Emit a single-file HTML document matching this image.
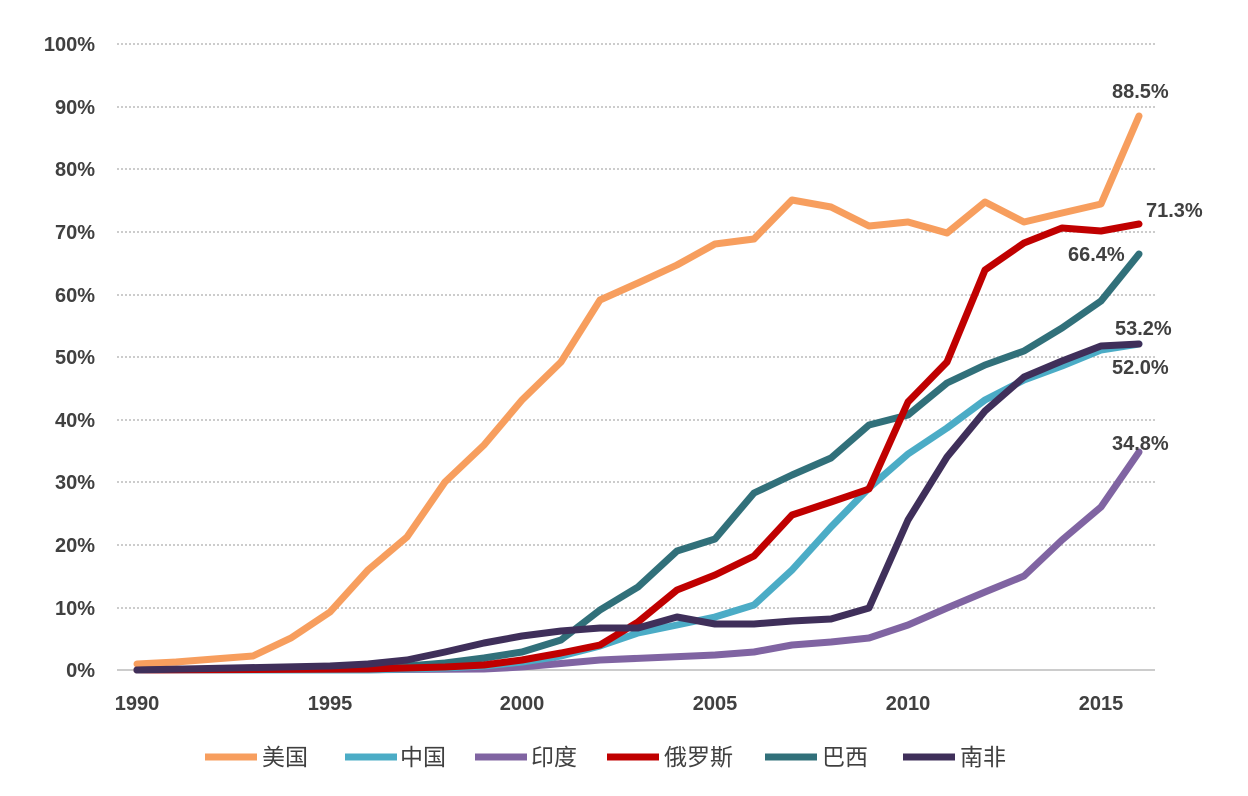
<!DOCTYPE html>
<html><head><meta charset="utf-8"><style>
html,body{margin:0;padding:0;background:#fff;}
svg text{font-family:"Liberation Sans","Noto Sans CJK SC",sans-serif;fill:#404040;}
</style></head><body>
<svg width="1248" height="791" xmlns="http://www.w3.org/2000/svg">
<g stroke="#bbb" stroke-width="1.5" stroke-dasharray="2,2">
<line x1="117" x2="1155" y1="44" y2="44"/><line x1="117" x2="1155" y1="107" y2="107"/>
<line x1="117" x2="1155" y1="169" y2="169"/><line x1="117" x2="1155" y1="232" y2="232"/>
<line x1="117" x2="1155" y1="295" y2="295"/><line x1="117" x2="1155" y1="357" y2="357"/>
<line x1="117" x2="1155" y1="420" y2="420"/><line x1="117" x2="1155" y1="482" y2="482"/>
<line x1="117" x2="1155" y1="545" y2="545"/><line x1="117" x2="1155" y1="608" y2="608"/>
</g>
<line x1="117" x2="1155" y1="670" y2="670" stroke="#bbb" stroke-width="1.5"/>
<g font-size="20" font-weight="bold" text-anchor="end">
<text x="95" y="51">100%</text><text x="95" y="114">90%</text><text x="95" y="176">80%</text>
<text x="95" y="239">70%</text><text x="95" y="302">60%</text><text x="95" y="364">50%</text>
<text x="95" y="427">40%</text><text x="95" y="489">30%</text><text x="95" y="552">20%</text>
<text x="95" y="615">10%</text><text x="95" y="677">0%</text>
</g>
<g font-size="20" font-weight="bold" text-anchor="middle">
<text x="137" y="710">1990</text><text x="330" y="710">1995</text><text x="522" y="710">2000</text>
<text x="715" y="710">2005</text><text x="908" y="710">2010</text><text x="1101" y="710">2015</text>
</g>
<g fill="none" stroke-width="7" stroke-linejoin="round" stroke-linecap="round">
<polyline stroke="#F79E5E" points="137,664 176,662 214,659 253,656 291,638 330,612 368,570 407,537 445,482 484,445 522,400 561,362 600,300 638,283 677,265 715,244 754,239 792,200 831,207 869,226 908,222 947,233 985,202 1024,222 1062,213 1101,204 1139,116"/>
<polyline stroke="#8064A2" points="137,670 330,670 484,669 522,667 600,660 715,655 754,652 792,645 831,642 869,638 908,625 947,608 985,592 1024,576 1062,540 1101,507 1139,452"/>
<polyline stroke="#4BACC6" points="137,670 368,670 407,669 445,668 484,666 522,662 561,656 600,646 638,633 677,625 715,617 754,605 792,570 831,527 869,488 908,454 947,428 985,400 1024,380 1062,366 1101,350 1139,344"/>
<polyline stroke="#31707A" points="137,670 330,668 407,666 445,663 484,658 522,652 561,640 600,610 638,587 677,551 715,539 754,493 792,475 831,458 869,425 908,415 947,383 985,365 1024,351 1062,328 1101,301 1139,254"/>
<polyline stroke="#C00000" points="137,670 368,669 445,667 484,665 522,660 561,653 600,645 638,622 677,590 715,575 754,556 792,515 831,502 869,489 908,402 947,362 985,270 1024,243 1062,228 1101,231 1139,224"/>
<polyline stroke="#3F2F5A" points="137,670 330,666 368,664 407,660 445,652 484,643 522,636 561,631 600,628 638,628 677,617 715,624 754,624 792,621 831,619 869,608 908,520 947,457 985,411 1024,377 1062,361 1101,346 1139,344"/>
</g>
<g font-size="20" font-weight="bold">
<text x="1112" y="98">88.5%</text><text x="1146" y="217">71.3%</text>
<text x="1068" y="261">66.4%</text><text x="1115" y="335">53.2%</text>
<text x="1112" y="374">52.0%</text><text x="1112" y="450">34.8%</text>
</g>
<g stroke-width="7">
<line x1="205" x2="257" y1="757" y2="757" stroke="#F79E5E"/>
<line x1="345" x2="397" y1="757" y2="757" stroke="#4BACC6"/>
<line x1="475" x2="527" y1="757" y2="757" stroke="#8064A2"/>
<line x1="607" x2="659" y1="757" y2="757" stroke="#C00000"/>
<line x1="765" x2="817" y1="757" y2="757" stroke="#31707A"/>
<line x1="903" x2="955" y1="757" y2="757" stroke="#3F2F5A"/>
</g>
<g font-size="23">
<text x="262" y="765">美国</text><text x="400" y="765">中国</text><text x="531" y="765">印度</text>
<text x="664" y="765">俄罗斯</text><text x="822" y="765">巴西</text><text x="960" y="765">南非</text>
</g>
</svg>
</body></html>
